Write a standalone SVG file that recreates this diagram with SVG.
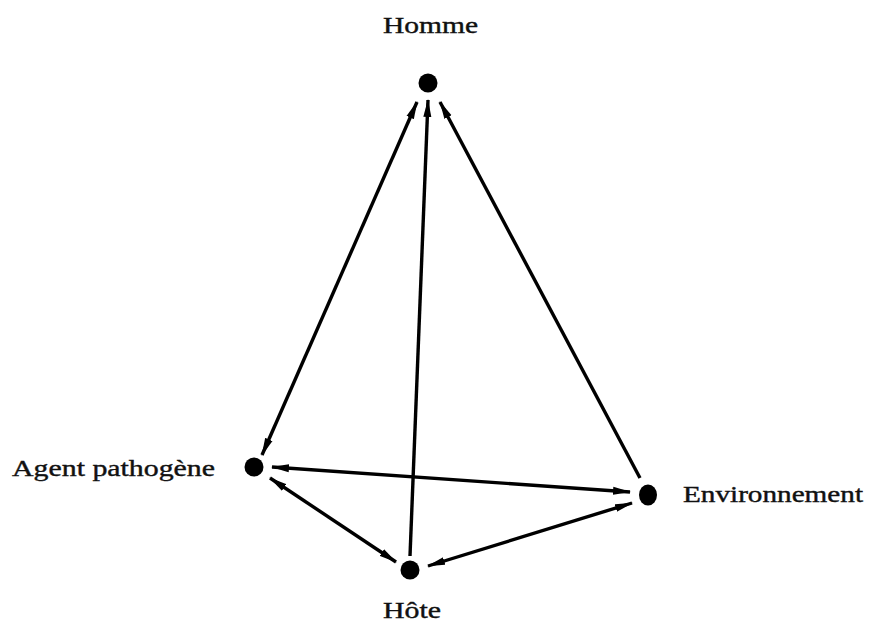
<svg xmlns="http://www.w3.org/2000/svg" width="870" height="626" viewBox="0 0 870 626">
<style>
.lbl{font-family:"Liberation Serif","Times New Roman",serif;font-size:23px;fill:#111;stroke:#111;stroke-width:0.4}
.dot{fill:#000}
.edge{stroke:#000;stroke-width:3.4;fill:none}
</style>
<defs>
<marker id="ah" viewBox="0 0 18 9" refX="17" refY="4.5" markerWidth="18" markerHeight="9" markerUnits="userSpaceOnUse" orient="auto-start-reverse">
<path d="M0,0.5 L18,4.5 L0,8.5 Z" fill="#000"/>
</marker>
</defs>
<rect width="870" height="626" fill="#fff"/>
<g id="connectors">
<line class="edge" x1="417" y1="102" x2="262" y2="455" marker-start="url(#ah)" marker-end="url(#ah)"/>
<line class="edge" x1="410" y1="556" x2="428" y2="100" marker-end="url(#ah)"/>
<line class="edge" x1="640" y1="478" x2="440" y2="102" marker-end="url(#ah)"/>
<line class="edge" x1="272" y1="467" x2="630" y2="492" marker-start="url(#ah)" marker-end="url(#ah)"/>
<line class="edge" x1="270" y1="478" x2="396" y2="562" marker-start="url(#ah)" marker-end="url(#ah)"/>
<line class="edge" x1="428" y1="566" x2="632" y2="503" marker-start="url(#ah)" marker-end="url(#ah)"/>
</g>
<g id="homme">
<circle class="dot" cx="428" cy="83" r="9.5"/>
<text class="lbl" x="383" y="33" textLength="95" lengthAdjust="spacingAndGlyphs">Homme</text>
</g>
<g id="agent">
<circle class="dot" cx="254" cy="467" r="9.5"/>
<text class="lbl" x="12" y="476" textLength="203" lengthAdjust="spacingAndGlyphs">Agent pathogène</text>
</g>
<g id="environnement">
<ellipse class="dot" cx="648" cy="495" rx="9" ry="10.5"/>
<text class="lbl" x="683" y="502" textLength="180" lengthAdjust="spacingAndGlyphs">Environnement</text>
</g>
<g id="hote">
<circle class="dot" cx="410" cy="570" r="9.5"/>
<text class="lbl" x="383" y="618" textLength="58" lengthAdjust="spacingAndGlyphs">Hôte</text>
</g>
</svg>
